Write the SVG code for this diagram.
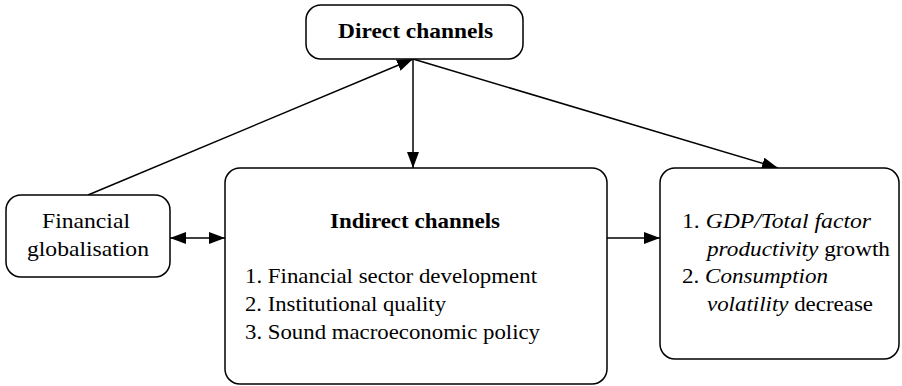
<svg xmlns="http://www.w3.org/2000/svg" width="902" height="386" viewBox="0 0 902 386">
<style>
.box{fill:#fff;stroke:#000;stroke-width:1.5}
.t{font-family:"Liberation Serif","Times New Roman",serif;font-size:21px;fill:#000}
.b{font-weight:bold}
.i{font-style:italic}
.c{stroke:#000;stroke-width:1.5;fill:none}
</style>
<defs>
<marker id="ah" viewBox="0 0 16 12" refX="16" refY="6" markerWidth="16" markerHeight="12" markerUnits="userSpaceOnUse" orient="auto-start-reverse">
<path d="M0,0 L16,6 L0,12 Z" fill="#000"/>
</marker>
</defs>
<g id="connectors">
<line class="c" x1="88" y1="195" x2="413" y2="59" marker-end="url(#ah)"/>
<line class="c" x1="413" y1="59" x2="413" y2="168" marker-end="url(#ah)"/>
<line class="c" x1="413" y1="59" x2="778" y2="168" marker-end="url(#ah)"/>
<line class="c" x1="170" y1="238" x2="225" y2="238" marker-start="url(#ah)" marker-end="url(#ah)"/>
<line class="c" x1="607" y1="238" x2="660" y2="238" marker-end="url(#ah)"/>
</g>
<g id="direct">
<rect class="box" x="306" y="5" width="217" height="54" rx="15"/>
<text class="t b" x="338" y="38" textLength="155" lengthAdjust="spacingAndGlyphs">Direct channels</text>
</g>
<g id="globalisation">
<rect class="box" x="6" y="195" width="164" height="82" rx="15"/>
<text class="t" x="42" y="228" textLength="88" lengthAdjust="spacingAndGlyphs">Financial</text>
<text class="t" x="27" y="256" textLength="122" lengthAdjust="spacingAndGlyphs">globalisation</text>
</g>
<g id="indirect">
<rect class="box" x="225" y="168" width="382" height="216" rx="15"/>
<text class="t b" x="330" y="228" textLength="170" lengthAdjust="spacingAndGlyphs">Indirect channels</text>
<text class="t" x="245" y="283" textLength="292" lengthAdjust="spacingAndGlyphs">1. Financial sector development</text>
<text class="t" x="245" y="311" textLength="201" lengthAdjust="spacingAndGlyphs">2. Institutional quality</text>
<text class="t" x="245" y="339" textLength="295" lengthAdjust="spacingAndGlyphs">3. Sound macroeconomic policy</text>
</g>
<g id="outcomes">
<rect class="box" x="660" y="168" width="239" height="191" rx="15"/>
<text class="t" x="682" y="228" textLength="189" lengthAdjust="spacingAndGlyphs">1. <tspan class="i">GDP/Total factor</tspan></text>
<text class="t" x="707" y="256" textLength="183" lengthAdjust="spacingAndGlyphs"><tspan class="i">productivity</tspan> growth</text>
<text class="t" x="682" y="283" textLength="146" lengthAdjust="spacingAndGlyphs">2. <tspan class="i">Consumption</tspan></text>
<text class="t" x="707" y="311" textLength="166" lengthAdjust="spacingAndGlyphs"><tspan class="i">volatility</tspan> decrease</text>
</g>
</svg>
